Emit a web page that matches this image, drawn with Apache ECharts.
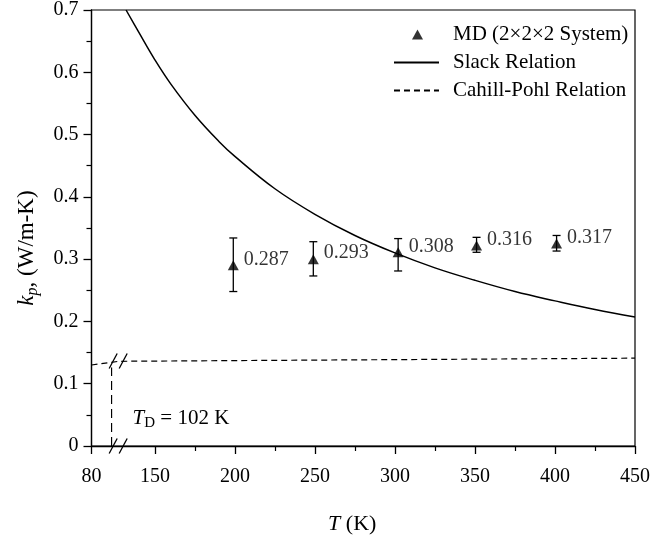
<!DOCTYPE html>
<html><head><meta charset="utf-8">
<script src="https://cdn.jsdelivr.net/npm/echarts@6/dist/echarts.min.js"></script>
<style>html,body{margin:0;padding:0;background:#fff}#c{width:654px;height:540px}</style>
</head><body><div id="c"></div>
<script>
const FONT = '"Liberation Serif","Times New Roman",serif';

// axis break (left segment 80..110 K is compressed, right segment starts at 127.5 K)
const breakLeftT = 110, breakRightT = 127.5, leftScale = 0.57;

const xTickLabels = [80, 150, 200, 250, 300, 350, 400, 450];
const xMinorTicks = [175, 225, 275, 325, 375, 425];
const yMin = 0, yMax = 0.7, yStep = 0.1;

// MD (2x2x2 system) results
const mdT = [199, 249, 302, 351, 401];
const mdK = [0.290, 0.300, 0.311, 0.322, 0.325];
const mdLow = [0.248, 0.273, 0.281, 0.311, 0.313];
const mdHigh = [0.334, 0.328, 0.333, 0.335, 0.338];
const mdLabels = ['0.287', '0.293', '0.308', '0.316', '0.317'];

// Slack relation
const slackT = [132, 140, 150, 160, 175, 190, 200, 225, 250, 275, 300, 325, 350, 375, 400, 425, 450];
const slackK = [0.700, 0.664, 0.620, 0.581, 0.531, 0.489, 0.465, 0.413, 0.372, 0.338, 0.310, 0.286, 0.266, 0.248, 0.233, 0.219, 0.207];

// Cahill-Pohl relation
const cpT = [80, 110, 127.5, 450];
const cpK = [0.130, 0.136, 0.137, 0.141];

// Debye temperature marker
const debyeT = 102;
const debyeTop = 0.126;

const names = ['MD (2×2×2 System)', 'Slack Relation', 'Cahill-Pohl Relation'];

function toAxis(T) { return T >= breakRightT ? T : breakRightT - (breakLeftT - T) * leftScale; }
const xMin = toAxis(xTickLabels[0]);
const xTickU = xTickLabels.map(toAxis);

const chart = echarts.init(document.getElementById('c'));
const gridRect = { left: 91.5, right: 19, top: 9, bottom: 94 };
const black = '#000';

chart.setOption({
  backgroundColor: '#fff',
  animation: false,
  textStyle: { fontFamily: FONT, color: black },
  grid: [
    Object.assign({ show: true, borderColor: black, borderWidth: 1.2, backgroundColor: 'transparent' }, gridRect),
    Object.assign({ show: false }, gridRect)
  ],
  legend: {
    data: [
      { name: names[0], icon: 'path://M0,0L0,0M18,10L23.5,0L29,10ZM45,10L45,10' },
      { name: names[1], itemStyle: { opacity: 0 } },
      { name: names[2], itemStyle: { opacity: 0 } }
    ],
    orient: 'vertical', left: 388, top: 19,
    itemWidth: 45, itemHeight: 10, itemGap: 7,
    selectedMode: false,
    textStyle: { fontSize: 21, fontFamily: FONT, color: black, padding: [0, 0, 0, 9] }
  },
  xAxis: [{
    type: 'value', gridIndex: 0, min: xMin, max: 450,
    axisLine: { show: true, onZero: false, lineStyle: { color: black, width: 1.3 } },
    axisTick: { show: true, customValues: xTickU, length: 8, lineStyle: { color: black, width: 1.3 } },
    axisLabel: {
      customValues: xTickU, margin: 21, fontSize: 20, fontFamily: FONT, color: black,
      formatter: function (v) {
        let best = 0;
        xTickU.forEach((u, i) => { if (Math.abs(u - v) < Math.abs(xTickU[best] - v)) best = i; });
        return String(xTickLabels[best]);
      }
    },
    splitLine: { show: false },
    name: '{i|T}{n| (K)}', nameLocation: 'middle', nameGap: 67,
    nameTextStyle: {
      padding: [0, 22, 0, 0],
      rich: {
        i: { fontSize: 22, fontStyle: 'italic', fontFamily: FONT, color: black },
        n: { fontSize: 22, fontFamily: FONT, color: black }
      }
    }
  }, {
    type: 'value', gridIndex: 1, min: xMin, max: 450,
    axisLine: { show: false },
    axisTick: { show: true, customValues: xMinorTicks, length: 5, lineStyle: { color: black, width: 1.2 } },
    axisLabel: { show: false },
    splitLine: { show: false }
  }],
  yAxis: [{
    type: 'value', gridIndex: 0, min: yMin, max: yMax, interval: yStep,
    axisLine: { show: true, onZero: false, lineStyle: { color: black, width: 1.3 } },
    axisTick: { show: true, length: 8, lineStyle: { color: black, width: 1.3 } },
    minorTick: { show: true, splitNumber: 2, length: 5, lineStyle: { color: black, width: 1.2 } },
    axisLabel: { margin: 13, fontSize: 20, fontFamily: FONT, color: black,
      formatter: v => (v === 0 ? '0' : v.toFixed(1)) },
    splitLine: { show: false }, minorSplitLine: { show: false },
    name: '{i|k}{s|p}{n|, (W/m-K)}', nameLocation: 'middle', nameGap: 51, nameRotate: 90,
    nameTextStyle: {
      padding: [0, 40, 0, 0],
      rich: {
        i: { fontSize: 23, fontStyle: 'italic', fontFamily: FONT, color: black, lineHeight: 27 },
        s: { fontSize: 16, fontStyle: 'italic', fontFamily: FONT, color: black, lineHeight: 16, verticalAlign: 'bottom' },
        n: { fontSize: 23, fontFamily: FONT, color: black, lineHeight: 27 }
      }
    }
  }, {
    type: 'value', gridIndex: 1, min: yMin, max: yMax, show: false
  }],
  series: [{
    name: names[1], type: 'line', xAxisIndex: 0, yAxisIndex: 0,
    data: slackT.map((t, i) => [toAxis(t), slackK[i]]),
    smooth: 0.4, symbol: 'none', showSymbol: false,
    lineStyle: { color: black, width: 1.5 }, itemStyle: { color: black }, z: 3
  }, {
    name: names[2], type: 'line', xAxisIndex: 0, yAxisIndex: 0,
    data: cpT.map((t, i) => [toAxis(t), cpK[i]]),
    symbol: 'none', showSymbol: false,
    lineStyle: { color: black, width: 1.2, type: [6, 4] }, itemStyle: { color: black }, z: 3
  }, {
    name: 'debye', type: 'line', xAxisIndex: 0, yAxisIndex: 0,
    data: [[toAxis(debyeT), 0], [toAxis(debyeT), debyeTop]],
    symbol: 'none', showSymbol: false,
    lineStyle: { color: black, width: 1.2, type: [9, 5] }, z: 3
  }, {
    name: 'errors', type: 'custom', xAxisIndex: 0, yAxisIndex: 0,
    data: mdT.map((t, i) => [toAxis(t), mdLow[i], mdHigh[i]]),
    renderItem: function (params, api) {
      const lo = api.coord([api.value(0), api.value(1)]);
      const hi = api.coord([api.value(0), api.value(2)]);
      const w = 4;
      const st = { stroke: black, lineWidth: 1.3 };
      return { type: 'group', children: [
        { type: 'line', shape: { x1: lo[0], y1: lo[1], x2: hi[0], y2: hi[1] }, style: st },
        { type: 'line', shape: { x1: lo[0] - w, y1: lo[1], x2: lo[0] + w, y2: lo[1] }, style: st },
        { type: 'line', shape: { x1: hi[0] - w, y1: hi[1], x2: hi[0] + w, y2: hi[1] }, style: st }
      ] };
    },
    z: 4
  }, {
    name: names[0], type: 'scatter', xAxisIndex: 0, yAxisIndex: 0,
    data: mdT.map((t, i) => [toAxis(t), mdK[i]]),
    symbol: 'triangle', symbolSize: [11, 10],
    itemStyle: { color: black },
    label: {
      show: true, position: 'right', distance: 5, offset: [0, -6],
      fontSize: 20, fontFamily: FONT, color: black,
      formatter: p => mdLabels[p.dataIndex]
    },
    z: 5
  }]
});

// break marks and T_D annotation
const pb0 = chart.convertToPixel({ gridIndex: 0 }, [breakRightT, 0]);
const pb1 = chart.convertToPixel({ gridIndex: 0 }, [breakRightT, 0.1365]);
const pd = chart.convertToPixel({ gridIndex: 0 }, [toAxis(debyeT), 0.05]);
const marks = [];
[pb0, pb1].forEach(p => {
  [-5, 5].forEach(off => {
    marks.push({ type: 'line', shape: { x1: p[0] - 0.7 + off - 4, y1: p[1] + 7.5, x2: p[0] - 0.7 + off + 4, y2: p[1] - 7.5 },
      style: { stroke: black, lineWidth: 1.3 }, z: 10 });
  });
});
marks.push({
  type: 'text', x: pd[0] + 21, y: pd[1] + 4, z: 10,
  style: {
    text: '{i|T}{s|D}{n| = 102 K}', verticalAlign: 'middle', align: 'left',
    rich: {
      i: { fontSize: 21, fontStyle: 'italic', fontFamily: FONT, fill: black, lineHeight: 24 },
      s: { fontSize: 15, fontFamily: FONT, fill: black, lineHeight: 15, verticalAlign: 'bottom' },
      n: { fontSize: 21, fontFamily: FONT, fill: black, lineHeight: 24 }
    }
  }
});
chart.setOption({ graphic: marks });
</script>
</body></html>
